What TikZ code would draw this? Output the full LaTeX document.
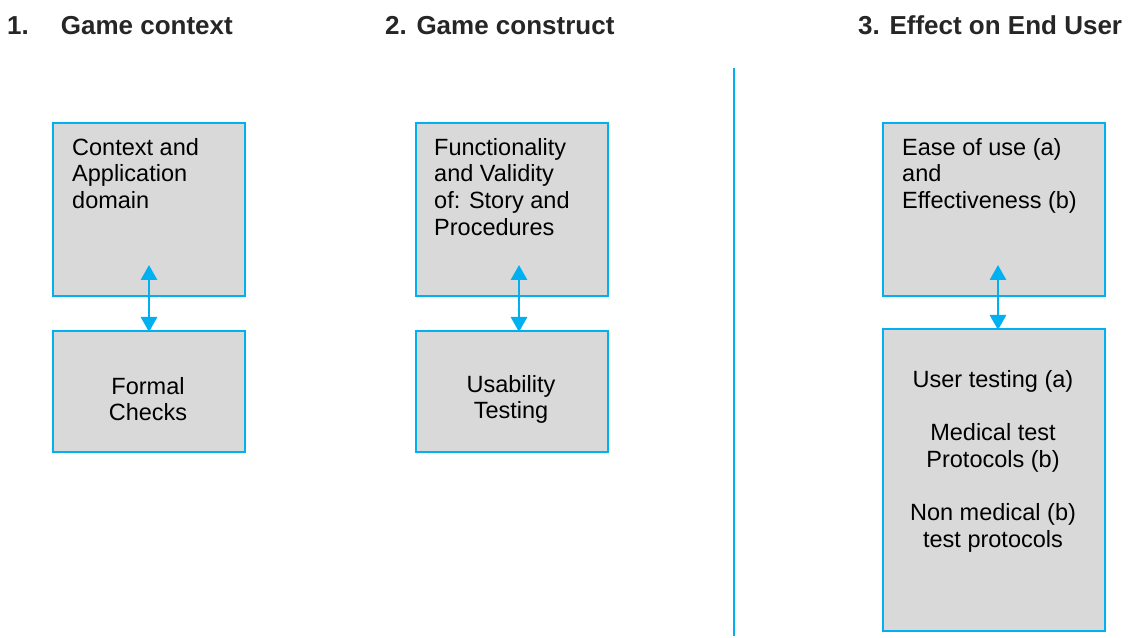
\documentclass[tikz,border=0pt]{standalone}
\usepackage{fontspec}
\setmainfont{Liberation Sans}
\usetikzlibrary{arrows.meta,calc}
\definecolor{lineblue}{HTML}{00B0F0}
\definecolor{boxgray}{HTML}{D9D9D9}
\definecolor{titlegray}{HTML}{262626}
\tikzset{
  box/.style={draw=lineblue, fill=boxgray, line width=2pt, minimum width=192pt, inner sep=0pt, anchor=north west},
  txt/.style={inner sep=0pt, font=\fontsize{23.5}{26.7}\selectfont, text=black},
  ttl/.style={inner sep=0pt, anchor=base west, font=\fontsize{26}{30}\selectfont\bfseries, text=titlegray},
  link/.style={draw=lineblue, line width=2.8pt, {Triangle[width=16pt,length=15pt]}-{Triangle[width=16pt,length=15pt]}},
  divider/.style={draw=lineblue, line width=1.5pt}
}
\begin{document}
\begin{tikzpicture}[x=1pt,y=1pt]
\useasboundingbox (0,0) rectangle (1129,637);
% titles
\node[ttl] (h1) at (7,602) {1.\hspace{32pt}Game context};
\node[ttl] (h2) at (385,602) {2. Game construct};
\node[ttl] (h3) at (858,602) {3. Effect on End User};
% column 1
\node[box, minimum height=173pt] (b1) at (52,515) {};
\node[box, minimum height=121pt] (b2) at (52,307) {};
\node[txt, anchor=north west, align=left] (t1) at (72,499) {Context and\\Application\\domain};
\node[txt, anchor=north, align=center] (t2) at (148,260) {Formal\\Checks};
% column 2
\node[box, minimum height=173pt] (b3) at (415,515) {};
\node[box, minimum height=121pt] (b4) at (415,307) {};
\node[txt, anchor=north west, align=left] (t3) at (434,499) {Functionality\\and Validity\\of: Story and\\Procedures};
\node[txt, anchor=north, align=center] (t4) at (511,262) {Usability\\Testing};
% column 3
\node[box, minimum width=222pt, minimum height=173pt] (b5) at (882,515) {};
\node[box, minimum width=222pt, minimum height=302pt] (b6) at (882,309) {};
\node[txt, anchor=north west, align=left] (t5) at (902,499) {Ease of use (a)\\and\\Effectiveness (b)};
\node[txt, anchor=north, align=center] (t6) at (993,267) {User testing (a)\\[26.7pt]Medical test\\Protocols (b)\\[26.7pt]Non medical (b)\\test protocols};
% connectors
\draw[link] ([yshift=-2pt]b2.north) -- ([yshift=32pt]b1.south);
\draw[link] ([xshift=7pt,yshift=-2pt]b4.north) -- ([xshift=7pt,yshift=32pt]b3.south);
\draw[link] ([xshift=4pt,yshift=-2pt]b6.north) -- ([xshift=4pt,yshift=32pt]b5.south);
% divider
\coordinate (d1) at (734,569);
\coordinate (d2) at (734,1);
\draw[divider] (d1) -- (d2);
\end{tikzpicture}
\end{document}
